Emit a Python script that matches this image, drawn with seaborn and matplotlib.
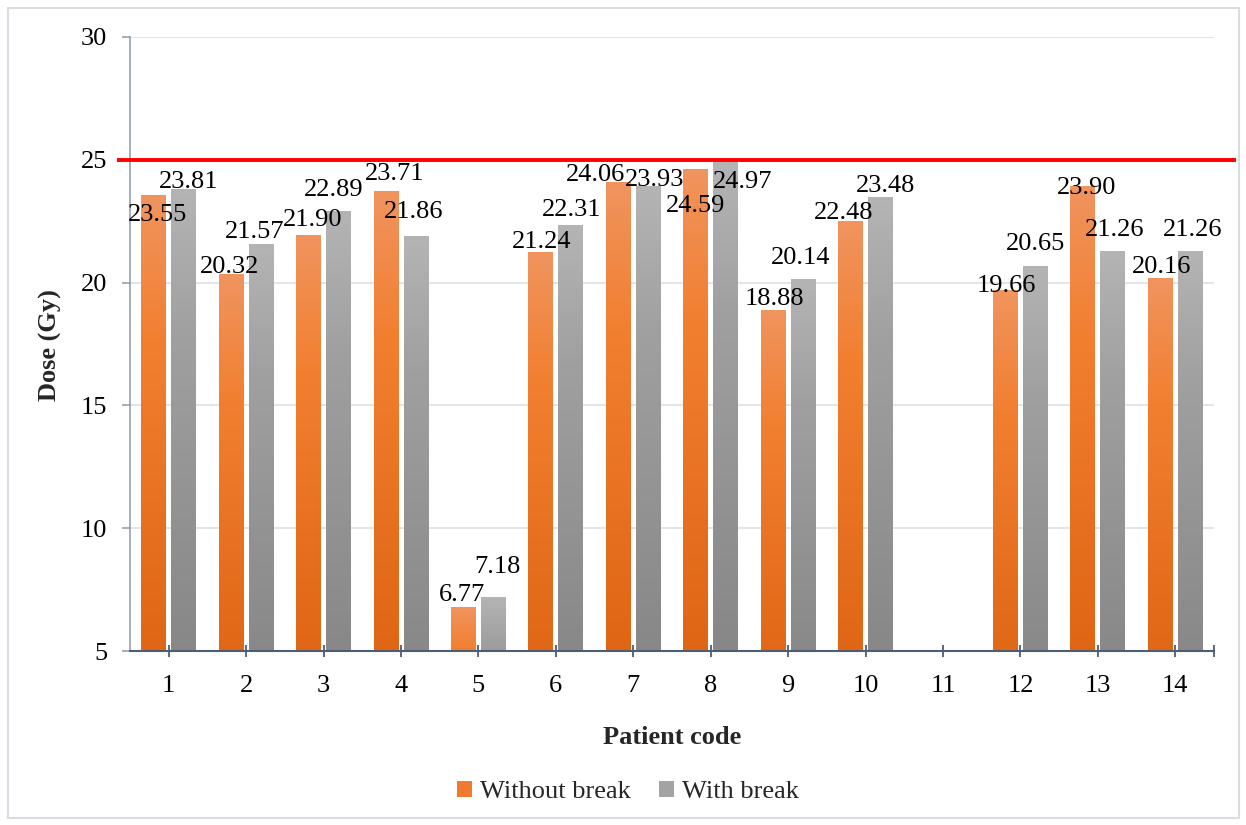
import numpy as np
import pandas as pd
import matplotlib
matplotlib.use("Agg")
import matplotlib.pyplot as plt
from matplotlib.colors import LinearSegmentedColormap
from matplotlib.patches import Patch, Rectangle
import seaborn as sns

# ---- data -------------------------------------------------------------
patients = [str(i) for i in range(1, 15)]
without_break = [23.55, 20.32, 21.90, 23.71, 6.77, 21.24, 24.06, 24.59,
                 18.88, 22.48, np.nan, 19.66, 23.90, 20.16]
with_break = [23.81, 21.57, 22.89, 21.86, 7.18, 22.31, 23.93, 24.97,
              20.14, 23.48, np.nan, 20.65, 21.26, 21.26]
series_names = ["Without break", "With break"]
dose_limit = 25
y_ticks = [5, 10, 15, 20, 25, 30]

# value label offsets (pixels) from the top centre of each bar
label_offsets = {
    "Without break": [(4, -20), (-2, 8), (4, 16), (9, 17), (-1, 13), (1, 10),
                      (-23, 8), (0, -36), (1, 11), (-7, 9), None, (1, 5),
                      (4, -1), (1, 12)],
    "With break": [(5, 7), (-7, 12), (-5, 22), (-2, 25), (4, 30), (1, 16),
                   (6, 6), (17, -21), (-3, 21), (5, 11), None, (0, 23),
                   (2, 22), (2, 22)],
}

df = pd.DataFrame({
    "patient": patients * 2,
    "series": [series_names[0]] * len(patients) + [series_names[1]] * len(patients),
    "dose": without_break + with_break,
})

# ---- style ------------------------------------------------------------
sns.set_theme(style="white")
plt.rcParams["font.family"] = ["Liberation Serif", "DejaVu Serif"]
FS = 19
axis_dark = "#4e5d73"
axis_light = "#8d97a8"

orange_cmap = LinearSegmentedColormap.from_list(
    "orange_grad", [(0.0, "#d75c0a"), (0.75, "#f27f30"), (1.0, "#f0945e")])
gray_cmap = LinearSegmentedColormap.from_list(
    "gray_grad", [(0.0, "#7e7e7e"), (0.75, "#a0a0a0"), (1.0, "#b4b4b4")])
cmaps = {series_names[0]: orange_cmap, series_names[1]: gray_cmap}
solid = {series_names[0]: "#ef7a30", series_names[1]: "#a3a3a3"}

W, H = 1246, 825
fig = plt.figure(figsize=(W / 100, H / 100), dpi=100)
fig.patch.set_facecolor("white")
ax = fig.add_axes([130 / W, 1 - 651 / H, 1084 / W, 614 / H])

sns.barplot(data=df, x="patient", y="dose", hue="series", order=patients,
            hue_order=series_names, palette=solid, width=0.775, gap=0.167,
            errorbar=None, legend=False, ax=ax)

ax.set_xlim(-0.5, len(patients) - 0.5)
ax.set_ylim(y_ticks[0], y_ticks[-1])

# gradient fill for each bar, label with its value
grad = np.linspace(0, 1, 256).reshape(-1, 1)
for name, container in zip(series_names, ax.containers):
    for bar in container:
        h = bar.get_height()
        if not np.isfinite(h) or h <= 0:
            continue
        x0 = bar.get_x()
        w = bar.get_width()
        idx = int(round(x0 + w / 2))
        ax.imshow(grad, extent=[x0, x0 + w, 0, h], origin="lower",
                  aspect="auto", cmap=cmaps[name], interpolation="bicubic",
                  zorder=2)
        bar.set_visible(False)
        off = label_offsets[name][idx]
        if off is None:
            continue
        ax.annotate(f"{h:.2f}", xy=(x0 + w / 2, h), xytext=off,
                    textcoords="offset pixels", ha="center", va="center",
                    fontsize=FS, color="black", zorder=5,
                    annotation_clip=False)

ax.set_xlim(-0.5, len(patients) - 0.5)
ax.set_ylim(y_ticks[0], y_ticks[-1])

# dose limit line
ax.plot([-0.012, 1.02], [dose_limit, dose_limit], color="#ff0000", lw=2.8,
        transform=ax.get_yaxis_transform(), clip_on=False, zorder=4,
        solid_capstyle="butt")

# axes cosmetics
ax.set_yticks(y_ticks)
ax.set_yticklabels([str(t) for t in y_ticks])
ax.yaxis.grid(True, color="#dcdfe4", lw=1.2)
ax.xaxis.grid(False)
ax.set_axisbelow(True)
for s in ["top", "right"]:
    ax.spines[s].set_visible(False)
ax.spines["left"].set_color(axis_light)
ax.spines["left"].set_linewidth(1.1)
ax.spines["bottom"].set_color(axis_dark)
ax.spines["bottom"].set_linewidth(1.5)
ax.spines["left"].set_zorder(3)
ax.spines["bottom"].set_zorder(3)

ax.set_xticks(range(len(patients)))
ax.set_xticklabels(patients)
ax.set_xticks([len(patients) - 0.5], minor=True)
ax.tick_params(axis="x", which="both", direction="inout", length=8,
               width=1.3, color=axis_dark, labelsize=FS, pad=13.5,
               labelcolor="black", bottom=True)
ax.tick_params(axis="y", direction="out", length=5.8, width=1.1,
               color=axis_light, labelsize=FS, pad=10.5, labelcolor="black",
               left=True)
ax.set_xlabel("")
ax.set_ylabel("")

fig.text(672 / W, 1 - 738 / H, "Patient code", ha="center", va="center",
         fontsize=FS, fontweight="bold")
fig.text(50 / W, 1 - 345 / H, "Dose (Gy)", ha="center", va="center",
         rotation=90, fontsize=FS, fontweight="bold")

handles = [Patch(facecolor=solid[n], edgecolor="none", label=n)
           for n in series_names]
fig.legend(handles=handles, loc="center", bbox_to_anchor=(628 / W, 1 - 792 / H),
           ncol=2, frameon=False, fontsize=FS, handlelength=0.55,
           handleheight=0.55, handletextpad=0.3, columnspacing=1.1)

# outer chart frame
fig.add_artist(Rectangle((8 / W, 7 / H), 1231 / W, 810 / H,
                         transform=fig.transFigure, fill=False,
                         edgecolor="#d9dde3", lw=1.5))

fig.savefig("out.png", dpi=100)
